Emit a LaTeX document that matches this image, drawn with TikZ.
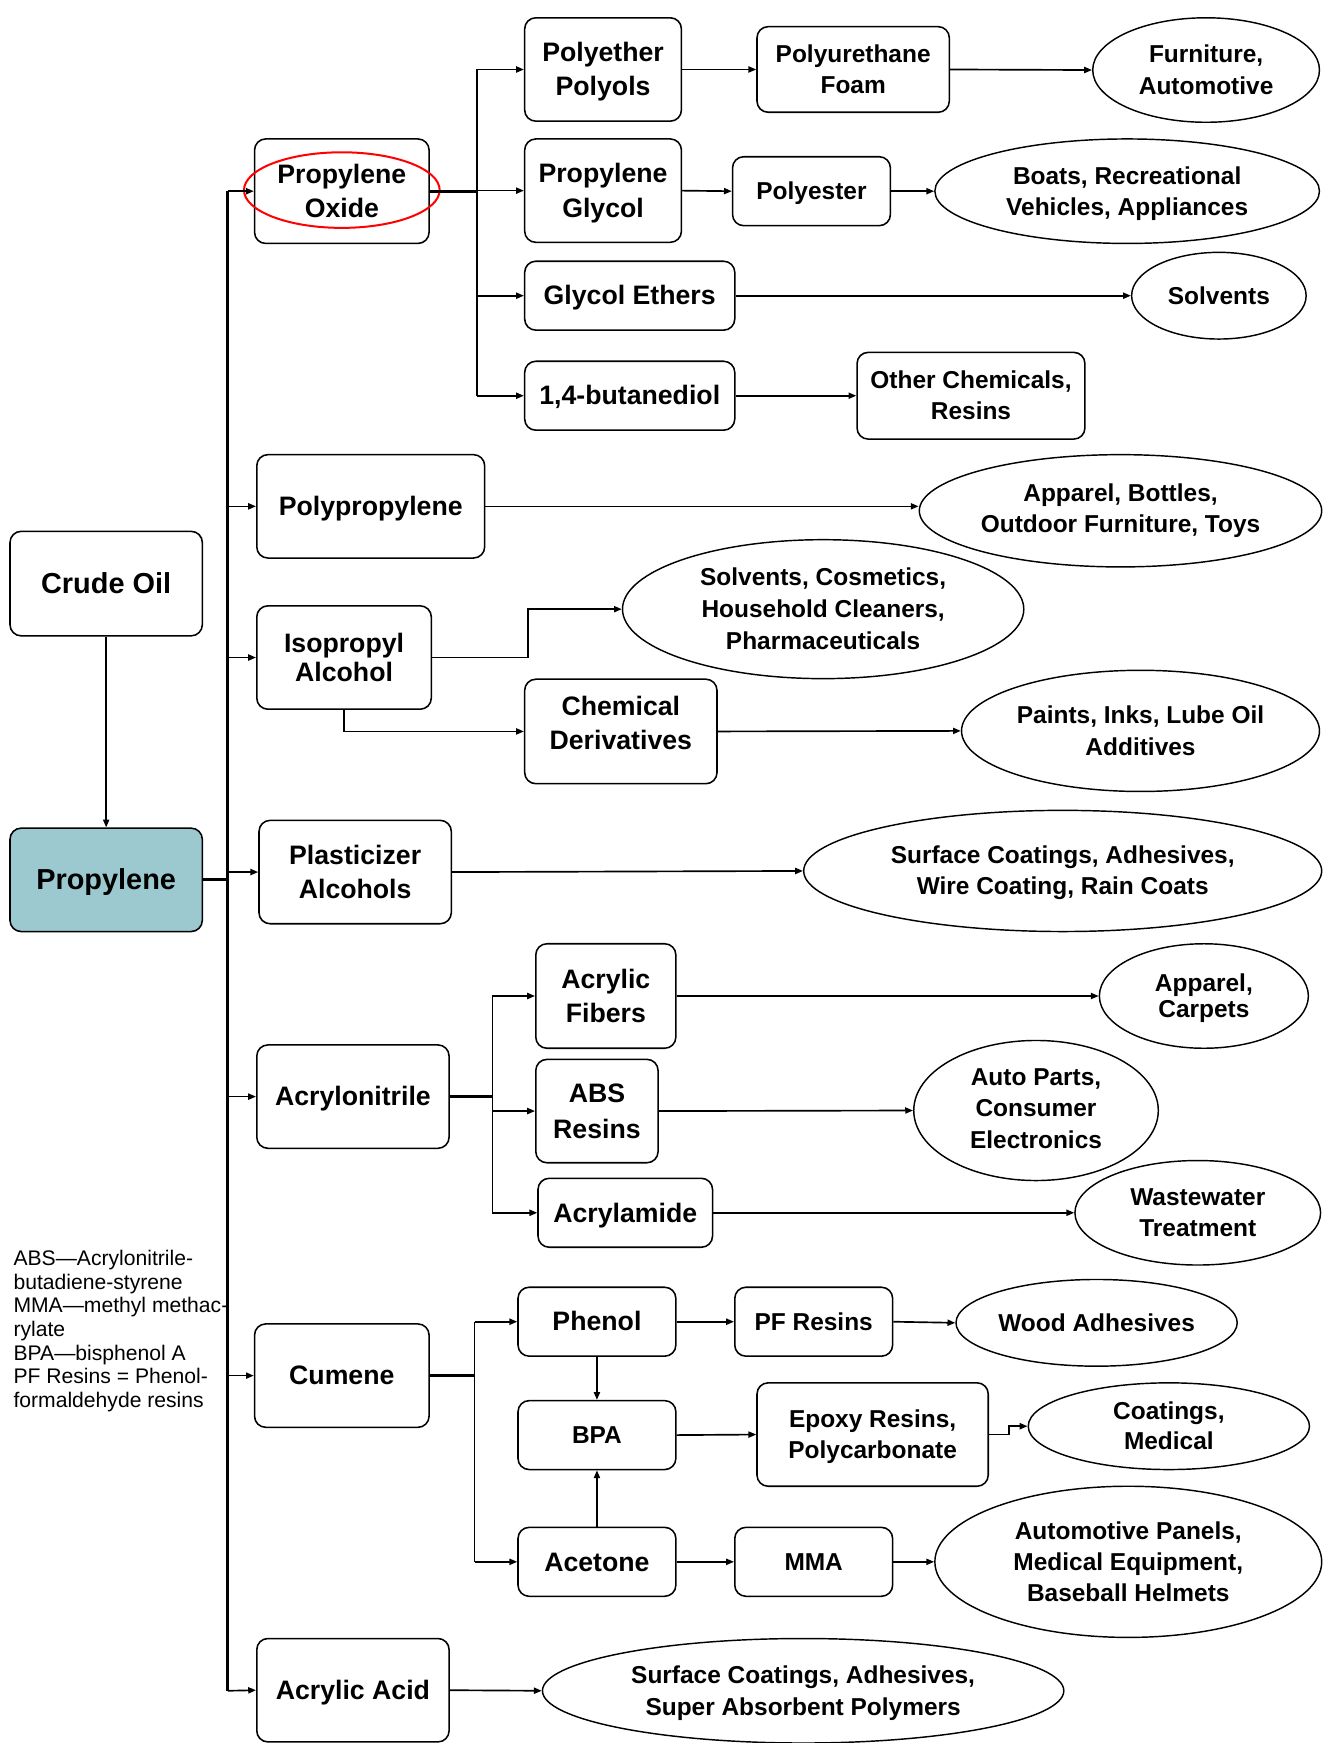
\documentclass[tikz,border=0pt]{standalone}
\usepackage{fontspec}
\setmainfont{Liberation Sans}
\usetikzlibrary{arrows.meta,shapes.geometric}
\definecolor{propfill}{HTML}{9BC9CF}
\newcommand{\topstrut}{\rule{0pt}{0.905em}}
\newcommand{\botstrut}{\rule[-0.212em]{0pt}{0pt}}
\begin{document}
\begin{tikzpicture}[x=1pt,y=-1pt,
  every node/.style={inner sep=0pt, align=center},
  struts/.style={execute at begin node=\topstrut, execute at end node=\botstrut},
  bigbox/.style={draw, line width=1.4pt, rounded corners=10pt, struts, font=\bfseries\fontsize{26}{31}\selectfont},
  mbox/.style={draw, line width=1.4pt, rounded corners=10pt, struts, font=\bfseries\fontsize{24}{31}\selectfont},
  sbox/.style={draw, line width=1.4pt, rounded corners=10pt, struts, font=\bfseries\fontsize{22}{28}\selectfont},
  oval/.style={draw, ellipse, line width=1.3pt, struts, font=\bfseries\fontsize{22}{28}\selectfont},
  arr/.style={line width=1.5pt, -{Triangle[length=7pt,width=5.5pt]}},
  thickln/.style={line width=2.6pt},
  trunkln/.style={line width=2.6pt},
  plainln/.style={line width=1.5pt}
]
\useasboundingbox (0,0) rectangle (1192,1568);

% ---- left column ----
\node[bigbox, minimum width=173pt, minimum height=94pt] (crude) at (95.5,525) {Crude Oil};
\node[bigbox, fill=propfill, minimum width=173pt, minimum height=93pt] (prop) at (95.5,791.5) {Propylene};

% ---- level 1 ----
\node[mbox, minimum width=157pt, minimum height=94pt] (po) at (307.5,172) {\topstrut Propylene\\Oxide};
\node[draw=red, ellipse, line width=1.8pt, minimum width=176pt, minimum height=68pt] (poring) at (307.5,171) {};
\node[mbox, minimum width=205pt, minimum height=93pt] (pp) at (333.5,455.5) {Polypropylene};
\node[mbox, minimum width=157pt, minimum height=93pt, font=\bfseries\fontsize{24}{26}\selectfont] (ipa) at (309.5,591.5) {\topstrut Isopropyl\\Alcohol};
\node[mbox, minimum width=173pt, minimum height=93pt] (pla) at (319.5,784.5) {\topstrut Plasticizer\\Alcohols};
\node[mbox, minimum width=173pt, minimum height=93pt] (acn) at (317.5,986.5) {Acrylonitrile};
\node[mbox, minimum width=157pt, minimum height=93pt] (cum) at (307.5,1237.5) {Cumene};
\node[mbox, minimum width=173pt, minimum height=93pt] (aa) at (317.5,1520.5) {Acrylic Acid};

% ---- propylene oxide branch ----
\node[mbox, minimum width=141pt, minimum height=93pt] (pep) at (542.5,62.5) {\topstrut Polyether\\Polyols};
\node[mbox, minimum width=141pt, minimum height=93pt] (pg) at (542.5,171.5) {\topstrut Propylene\\Glycol};
\node[mbox, minimum width=189pt, minimum height=62pt] (ge) at (566.5,266) {Glycol Ethers};
\node[mbox, minimum width=189pt, minimum height=62pt] (bd) at (566.5,356) {1,4-butanediol};
\node[sbox, minimum width=173pt, minimum height=77pt] (puf) at (767.5,62.5) {\topstrut Polyurethane\\Foam};
\node[sbox, minimum width=142pt, minimum height=62pt] (pes) at (730,172) {Polyester};
\node[sbox, minimum width=205pt, minimum height=78pt] (oth) at (873.5,356) {\topstrut Other Chemicals,\\Resins};
\node[oval, minimum width=204pt, minimum height=94pt] (furn) at (1085,63) {\topstrut Furniture,\\Automotive};
\node[oval, minimum width=346pt, minimum height=94pt] (boats) at (1014,172) {\topstrut Boats, Recreational\\Vehicles, Appliances};
\node[oval, minimum width=157pt, minimum height=78pt] (solv) at (1096.5,266) {Solvents};

% ---- polypropylene / IPA / plasticizer ----
\node[oval, minimum width=362pt, minimum height=101pt] (appb) at (1008,459.5) {Apparel, Bottles,\\Outdoor Furniture, Toys};
\node[oval, minimum width=361pt, minimum height=125pt, font=\bfseries\fontsize{22}{28.5}\selectfont] (solv2) at (740.5,548) {\topstrut Solvents, Cosmetics,\\Household Cleaners,\\Pharmaceuticals};
\node[mbox, minimum width=173pt, minimum height=94pt, font=\bfseries\fontsize{24}{30}\selectfont, execute at end node={\rule[-19.7pt]{0pt}{0pt}}] (chem) at (558.5,658) {\topstrut Chemical\\Derivatives};
\node[oval, minimum width=322pt, minimum height=109pt, font=\bfseries\fontsize{22}{29}\selectfont] (paint) at (1026,657.5) {\topstrut Paints, Inks, Lube Oil\\Additives};
\node[oval, minimum width=466pt, minimum height=109pt] (surf) at (956,783.5) {\topstrut Surface Coatings, Adhesives,\\Wire Coating, Rain Coats};

% ---- acrylonitrile branch ----
\node[mbox, minimum width=126pt, minimum height=94pt] (af) at (545,896) {\topstrut Acrylic\\Fibers};
\node[mbox, minimum width=110pt, minimum height=93pt, font=\bfseries\fontsize{24}{32}\selectfont] (abs) at (537,999.5) {\topstrut ABS\\Resins};
\node[mbox, minimum width=157pt, minimum height=62pt] (acm) at (562.5,1091) {Acrylamide};
\node[oval, minimum width=188pt, minimum height=94pt, font=\bfseries\fontsize{22}{24}\selectfont] (carp) at (1083,896) {\topstrut Apparel,\\Carpets};
\node[oval, minimum width=220pt, minimum height=126pt, font=\bfseries\fontsize{22}{28.5}\selectfont, execute at end node={\rule[-8.7pt]{0pt}{0pt}}] (autop) at (932,999) {\topstrut Auto Parts,\\Consumer\\Electronics};
\node[oval, minimum width=221pt, minimum height=94pt] (waste) at (1077.5,1091) {\topstrut Wastewater\\Treatment};

% ---- cumene branch ----
\node[mbox, minimum width=142pt, minimum height=62pt] (phen) at (537,1189) {Phenol};
\node[sbox, minimum width=142pt, minimum height=62pt] (bpa) at (537,1291) {BPA};
\node[mbox, minimum width=142pt, minimum height=62pt] (acet) at (537,1405) {Acetone};
\node[sbox, minimum width=142pt, minimum height=62pt] (pf) at (732,1189) {PF Resins};
\node[sbox, minimum width=208pt, minimum height=93pt] (epox) at (785,1290.5) {\topstrut Epoxy Resins,\\Polycarbonate};
\node[sbox, minimum width=142pt, minimum height=62pt] (mma) at (732,1405) {MMA};
\node[oval, minimum width=253pt, minimum height=78pt] (wood) at (986.5,1190) {Wood Adhesives};
\node[oval, minimum width=253pt, minimum height=78pt, font=\bfseries\fontsize{22}{27}\selectfont] (coat) at (1051.5,1283) {\topstrut Coatings,\\Medical};
\node[oval, minimum width=348pt, minimum height=136pt] (autom) at (1015,1405) {\topstrut Automotive Panels,\\Medical Equipment,\\Baseball Helmets};
\node[oval, minimum width=469pt, minimum height=94pt, font=\bfseries\fontsize{22}{29}\selectfont] (sap) at (722.5,1521) {\topstrut Surface Coatings, Adhesives,\\Super Absorbent Polymers};

% ---- legend ----
\node[anchor=north west, align=left, font=\fontsize{19}{21.3}\selectfont] (legend) at (12,1124.5)
  {ABS—Acrylonitrile-\\butadiene-styrene\\MMA—methyl methac-\\rylate\\BPA—bisphenol A\\PF Resins = Phenol-\\formaldehyde resins};

% ---- trunk ----
\coordinate (ttop) at (205,172);
\coordinate (tbot) at (205,1521);
\draw[arr] (crude) -- (prop);
\draw[trunkln] (ttop) -- (tbot);
\draw[thickln] (prop.east) -- (prop.east -| ttop);
\draw[arr] (ttop) -- (po.west);
\draw[arr] (ttop |- pp.west) -- (pp.west);
\draw[arr] (ttop |- ipa.west) -- (ipa.west);
\draw[arr] (ttop |- pla.west) -- (pla.west);
\draw[arr] (ttop |- acn.west) -- (acn.west);
\draw[arr] (ttop |- cum.west) -- (cum.west);
\draw[arr] (tbot) -- (aa.west);

% ---- propylene oxide connectors ----
\coordinate (poj) at (429,172);
\draw[thickln] (po.east) -- (poj);
\draw[plainln] (poj |- pep.west) -- (poj |- bd.west);
\draw[arr] (poj |- pep.west) -- (pep.west);
\draw[arr] (poj |- pg.west) -- (pg.west);
\draw[arr] (poj |- ge.west) -- (ge.west);
\draw[arr] (poj |- bd.west) -- (bd.west);
\draw[arr] (pep.east) -- (puf.west);
\draw[arr] (puf.east) -- (furn.west);
\draw[arr] (pg.east) -- (pes.west);
\draw[arr] (pes.east) -- (boats.west);
\draw[arr] (ge.east) -- (solv.west);
\draw[arr] (bd.east) -- (oth.west);

% ---- PP, IPA, plasticizer ----
\draw[arr] (pp.east) -- (pp.east -| appb.west);
\draw[arr] (ipa.east) -- ++(86,0) |- (solv2.west);
\draw[arr] (ipa.south) |- (chem.west);
\draw[arr] (chem.east) -- (paint.west);
\draw[arr] (pla.east) -- (surf.west);

% ---- acrylonitrile connectors ----
\coordinate (acj) at (443,986.5);
\draw[thickln] (acn.east) -- (acj);
\draw[plainln] (acj |- af.west) -- (acj |- acm.west);
\draw[arr] (acj |- af.west) -- (af.west);
\draw[arr] (acj |- abs.west) -- (abs.west);
\draw[arr] (acj |- acm.west) -- (acm.west);
\draw[arr] (af.east) -- (carp.west);
\draw[arr] (abs.east) -- (autop.west);
\draw[arr] (acm.east) -- (waste.west);

% ---- cumene connectors ----
\coordinate (cuj) at (427,1237.5);
\draw[thickln] (cum.east) -- (cuj);
\draw[plainln] (cuj |- phen.west) -- (cuj |- acet.west);
\draw[arr] (cuj |- phen.west) -- (phen.west);
\draw[arr] (cuj |- acet.west) -- (acet.west);
\draw[arr] (phen.south) -- (bpa.north);
\draw[arr] (acet.north) -- (bpa.south);
\draw[arr] (phen.east) -- (pf.west);
\draw[arr] (pf.east) -- (wood.west);
\draw[arr] (bpa.east) -- (epox.west);
\draw[arr] (epox.east) -- ++(18,0) |- (coat.west);
\draw[arr] (acet.east) -- (mma.west);
\draw[arr] (mma.east) -- (autom.west);
\draw[arr] (aa.east) -- (sap.west);
\end{tikzpicture}
\end{document}
